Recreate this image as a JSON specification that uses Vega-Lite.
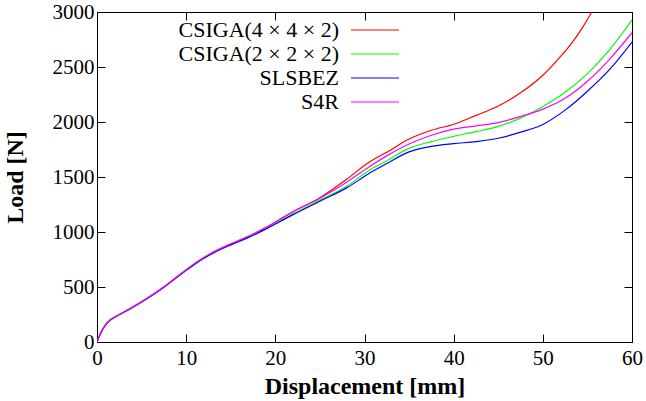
{
  "$schema": "https://vega.github.io/schema/vega-lite/v6.json",
  "width": 535,
  "height": 330,
  "autosize": {"type": "none"},
  "padding": {"left": 97, "top": 12, "right": 14, "bottom": 59},
  "background": "white",
  "config": {
    "font": "Liberation Serif",
    "view": {"stroke": "black", "strokeWidth": 1},
    "axis": {
      "grid": false,
      "domainColor": "black",
      "tickColor": "black",
      "labelColor": "black",
      "titleColor": "black",
      "labelFont": "Liberation Serif",
      "titleFont": "Liberation Serif",
      "labelFontSize": 21,
      "titleFontSize": 24,
      "titleFontWeight": "bold",
      "tickSize": -8,
      "labelFontWeight": "normal",
      "labelFlush": false,
      "format": "d"
    }
  },
  "data": {
    "values": [
      {"series": "CSIGA(4 × 4 × 2)", "d": 0, "load": 0},
      {"series": "CSIGA(4 × 4 × 2)", "d": 0.5, "load": 95},
      {"series": "CSIGA(4 × 4 × 2)", "d": 1, "load": 160},
      {"series": "CSIGA(4 × 4 × 2)", "d": 1.5, "load": 200},
      {"series": "CSIGA(4 × 4 × 2)", "d": 2, "load": 225},
      {"series": "CSIGA(4 × 4 × 2)", "d": 3.5, "load": 292},
      {"series": "CSIGA(4 × 4 × 2)", "d": 5.5, "load": 390},
      {"series": "CSIGA(4 × 4 × 2)", "d": 7.5, "load": 500},
      {"series": "CSIGA(4 × 4 × 2)", "d": 9, "load": 594},
      {"series": "CSIGA(4 × 4 × 2)", "d": 10, "load": 655},
      {"series": "CSIGA(4 × 4 × 2)", "d": 11, "load": 714},
      {"series": "CSIGA(4 × 4 × 2)", "d": 12, "load": 767},
      {"series": "CSIGA(4 × 4 × 2)", "d": 13, "load": 814},
      {"series": "CSIGA(4 × 4 × 2)", "d": 14, "load": 854},
      {"series": "CSIGA(4 × 4 × 2)", "d": 15, "load": 890},
      {"series": "CSIGA(4 × 4 × 2)", "d": 16, "load": 924},
      {"series": "CSIGA(4 × 4 × 2)", "d": 17, "load": 960},
      {"series": "CSIGA(4 × 4 × 2)", "d": 18, "load": 999},
      {"series": "CSIGA(4 × 4 × 2)", "d": 19, "load": 1042},
      {"series": "CSIGA(4 × 4 × 2)", "d": 22, "load": 1185},
      {"series": "CSIGA(4 × 4 × 2)", "d": 25, "load": 1312},
      {"series": "CSIGA(4 × 4 × 2)", "d": 28, "load": 1480},
      {"series": "CSIGA(4 × 4 × 2)", "d": 30.5, "load": 1635},
      {"series": "CSIGA(4 × 4 × 2)", "d": 32.5, "load": 1725},
      {"series": "CSIGA(4 × 4 × 2)", "d": 35, "load": 1845},
      {"series": "CSIGA(4 × 4 × 2)", "d": 37.5, "load": 1925},
      {"series": "CSIGA(4 × 4 × 2)", "d": 40, "load": 1980},
      {"series": "CSIGA(4 × 4 × 2)", "d": 42.5, "load": 2060},
      {"series": "CSIGA(4 × 4 × 2)", "d": 45, "load": 2145},
      {"series": "CSIGA(4 × 4 × 2)", "d": 47.5, "load": 2265},
      {"series": "CSIGA(4 × 4 × 2)", "d": 50, "load": 2425},
      {"series": "CSIGA(4 × 4 × 2)", "d": 51.5, "load": 2552},
      {"series": "CSIGA(4 × 4 × 2)", "d": 53, "load": 2691},
      {"series": "CSIGA(4 × 4 × 2)", "d": 54.5, "load": 2865},
      {"series": "CSIGA(4 × 4 × 2)", "d": 55.5, "load": 3000},
      {"series": "CSIGA(4 × 4 × 2)", "d": 56.5, "load": 3140},

      {"series": "CSIGA(2 × 2 × 2)", "d": 0, "load": 0},
      {"series": "CSIGA(2 × 2 × 2)", "d": 0.5, "load": 95},
      {"series": "CSIGA(2 × 2 × 2)", "d": 1, "load": 160},
      {"series": "CSIGA(2 × 2 × 2)", "d": 1.5, "load": 200},
      {"series": "CSIGA(2 × 2 × 2)", "d": 2, "load": 225},
      {"series": "CSIGA(2 × 2 × 2)", "d": 3.5, "load": 292},
      {"series": "CSIGA(2 × 2 × 2)", "d": 5.5, "load": 388},
      {"series": "CSIGA(2 × 2 × 2)", "d": 7.5, "load": 497},
      {"series": "CSIGA(2 × 2 × 2)", "d": 9, "load": 590},
      {"series": "CSIGA(2 × 2 × 2)", "d": 10, "load": 650},
      {"series": "CSIGA(2 × 2 × 2)", "d": 11, "load": 709},
      {"series": "CSIGA(2 × 2 × 2)", "d": 12, "load": 761},
      {"series": "CSIGA(2 × 2 × 2)", "d": 13, "load": 807},
      {"series": "CSIGA(2 × 2 × 2)", "d": 14, "load": 847},
      {"series": "CSIGA(2 × 2 × 2)", "d": 15, "load": 882},
      {"series": "CSIGA(2 × 2 × 2)", "d": 16, "load": 916},
      {"series": "CSIGA(2 × 2 × 2)", "d": 17, "load": 951},
      {"series": "CSIGA(2 × 2 × 2)", "d": 18, "load": 990},
      {"series": "CSIGA(2 × 2 × 2)", "d": 19, "load": 1032},
      {"series": "CSIGA(2 × 2 × 2)", "d": 22, "load": 1165},
      {"series": "CSIGA(2 × 2 × 2)", "d": 25, "load": 1290},
      {"series": "CSIGA(2 × 2 × 2)", "d": 28, "load": 1416},
      {"series": "CSIGA(2 × 2 × 2)", "d": 30.5, "load": 1560},
      {"series": "CSIGA(2 × 2 × 2)", "d": 32.5, "load": 1648},
      {"series": "CSIGA(2 × 2 × 2)", "d": 35, "load": 1760},
      {"series": "CSIGA(2 × 2 × 2)", "d": 37.5, "load": 1822},
      {"series": "CSIGA(2 × 2 × 2)", "d": 40, "load": 1870},
      {"series": "CSIGA(2 × 2 × 2)", "d": 42.5, "load": 1912},
      {"series": "CSIGA(2 × 2 × 2)", "d": 45, "load": 1960},
      {"series": "CSIGA(2 × 2 × 2)", "d": 47.5, "load": 2035},
      {"series": "CSIGA(2 × 2 × 2)", "d": 50, "load": 2140},
      {"series": "CSIGA(2 × 2 × 2)", "d": 52.5, "load": 2270},
      {"series": "CSIGA(2 × 2 × 2)", "d": 55, "load": 2440},
      {"series": "CSIGA(2 × 2 × 2)", "d": 57.5, "load": 2658},
      {"series": "CSIGA(2 × 2 × 2)", "d": 60, "load": 2927},

      {"series": "SLSBEZ", "d": 0, "load": 0},
      {"series": "SLSBEZ", "d": 0.5, "load": 95},
      {"series": "SLSBEZ", "d": 1, "load": 160},
      {"series": "SLSBEZ", "d": 1.5, "load": 200},
      {"series": "SLSBEZ", "d": 2, "load": 225},
      {"series": "SLSBEZ", "d": 3.5, "load": 292},
      {"series": "SLSBEZ", "d": 5.5, "load": 389},
      {"series": "SLSBEZ", "d": 7.5, "load": 498},
      {"series": "SLSBEZ", "d": 9, "load": 591},
      {"series": "SLSBEZ", "d": 10, "load": 651},
      {"series": "SLSBEZ", "d": 11, "load": 710},
      {"series": "SLSBEZ", "d": 12, "load": 762},
      {"series": "SLSBEZ", "d": 13, "load": 808},
      {"series": "SLSBEZ", "d": 14, "load": 848},
      {"series": "SLSBEZ", "d": 15, "load": 883},
      {"series": "SLSBEZ", "d": 16, "load": 917},
      {"series": "SLSBEZ", "d": 17, "load": 951},
      {"series": "SLSBEZ", "d": 18, "load": 989},
      {"series": "SLSBEZ", "d": 19, "load": 1030},
      {"series": "SLSBEZ", "d": 22, "load": 1158},
      {"series": "SLSBEZ", "d": 25, "load": 1280},
      {"series": "SLSBEZ", "d": 28, "load": 1401},
      {"series": "SLSBEZ", "d": 30.5, "load": 1532},
      {"series": "SLSBEZ", "d": 32.5, "load": 1622},
      {"series": "SLSBEZ", "d": 35, "load": 1728},
      {"series": "SLSBEZ", "d": 37.5, "load": 1778},
      {"series": "SLSBEZ", "d": 40, "load": 1803},
      {"series": "SLSBEZ", "d": 42.5, "load": 1822},
      {"series": "SLSBEZ", "d": 45, "load": 1852},
      {"series": "SLSBEZ", "d": 47.5, "load": 1908},
      {"series": "SLSBEZ", "d": 50, "load": 1978},
      {"series": "SLSBEZ", "d": 52.5, "load": 2108},
      {"series": "SLSBEZ", "d": 55, "load": 2280},
      {"series": "SLSBEZ", "d": 57.5, "load": 2478},
      {"series": "SLSBEZ", "d": 60, "load": 2727},

      {"series": "S4R", "d": 0, "load": 0},
      {"series": "S4R", "d": 0.5, "load": 97},
      {"series": "S4R", "d": 1, "load": 162},
      {"series": "S4R", "d": 1.5, "load": 202},
      {"series": "S4R", "d": 2, "load": 227},
      {"series": "S4R", "d": 3.5, "load": 294},
      {"series": "S4R", "d": 5.5, "load": 392},
      {"series": "S4R", "d": 7.5, "load": 502},
      {"series": "S4R", "d": 9, "load": 596},
      {"series": "S4R", "d": 10, "load": 657},
      {"series": "S4R", "d": 11, "load": 716},
      {"series": "S4R", "d": 12, "load": 769},
      {"series": "S4R", "d": 13, "load": 816},
      {"series": "S4R", "d": 14, "load": 856},
      {"series": "S4R", "d": 15, "load": 892},
      {"series": "S4R", "d": 16, "load": 926},
      {"series": "S4R", "d": 17, "load": 962},
      {"series": "S4R", "d": 18, "load": 1001},
      {"series": "S4R", "d": 19, "load": 1044},
      {"series": "S4R", "d": 22, "load": 1185},
      {"series": "S4R", "d": 25, "load": 1306},
      {"series": "S4R", "d": 28, "load": 1452},
      {"series": "S4R", "d": 30.5, "load": 1592},
      {"series": "S4R", "d": 32.5, "load": 1692},
      {"series": "S4R", "d": 35, "load": 1800},
      {"series": "S4R", "d": 37.5, "load": 1880},
      {"series": "S4R", "d": 40, "load": 1935},
      {"series": "S4R", "d": 42.5, "load": 1965},
      {"series": "S4R", "d": 45, "load": 1995},
      {"series": "S4R", "d": 47.5, "load": 2050},
      {"series": "S4R", "d": 50, "load": 2117},
      {"series": "S4R", "d": 52.5, "load": 2215},
      {"series": "S4R", "d": 55, "load": 2370},
      {"series": "S4R", "d": 57.5, "load": 2572},
      {"series": "S4R", "d": 60, "load": 2812}
    ]
  },
  "layer": [
    {
      "mark": {"type": "line", "clip": true, "strokeWidth": 1.2, "interpolate": "monotone"},
      "encoding": {
        "x": {
          "field": "d", "type": "quantitative",
          "scale": {"domain": [0, 60], "nice": false, "zero": false},
          "axis": {"orient": "bottom", "values": [0, 10, 20, 30, 40, 50, 60], "title": "Displacement [mm]", "labelPadding": 13, "titlePadding": 6}
        },
        "y": {
          "field": "load", "type": "quantitative",
          "scale": {"domain": [0, 3000], "nice": false, "zero": false},
          "axis": {"orient": "left", "values": [0, 500, 1000, 1500, 2000, 2500, 3000], "title": "Load [N]", "labelPadding": 11, "titlePadding": 25}
        },
        "color": {
          "field": "series", "type": "nominal",
          "scale": {
            "domain": ["CSIGA(4 × 4 × 2)", "CSIGA(2 × 2 × 2)", "SLSBEZ", "S4R"],
            "range": ["#ff0000", "#00ff00", "#0000ff", "#ff00ff"]
          },
          "legend": {
            "title": null,
            "orient": "none",
            "legendX": 265,
            "legendY": 5,
            "padding": 0,
            "symbolType": "M-2,0H2",
            "symbolSize": 576,
            "symbolStrokeWidth": 1.2,
            "labelFontSize": 22,
            "labelFont": "Liberation Serif",
            "labelColor": "black",
            "labelAlign": "right",
            "labelOffset": -49,
            "rowPadding": 0,
            "labelLimit": 400
          }
        }
      }
    },
    {
      "mark": {"type": "line", "opacity": 0},
      "encoding": {
        "x": {
          "field": "d", "type": "quantitative",
          "scale": {"domain": [0, 60], "nice": false, "zero": false},
          "axis": {"orient": "top", "values": [0, 10, 20, 30, 40, 50, 60], "title": null, "labels": false}
        },
        "y": {
          "field": "load", "type": "quantitative",
          "scale": {"domain": [0, 3000], "nice": false, "zero": false},
          "axis": {"orient": "right", "values": [0, 500, 1000, 1500, 2000, 2500, 3000], "title": null, "labels": false}
        },
        "detail": {"field": "series", "type": "nominal"}
      }
    }
  ],
  "resolve": {"axis": {"x": "independent", "y": "independent"}}
}
